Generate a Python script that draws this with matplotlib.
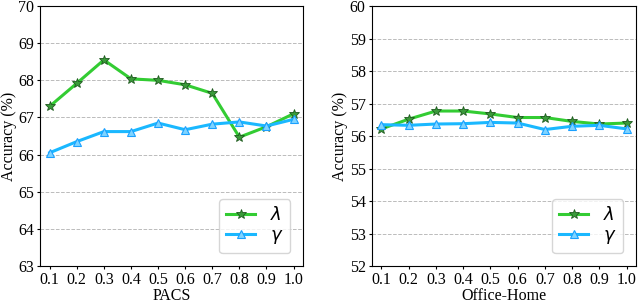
import numpy as np
import matplotlib
matplotlib.use("Agg")
import matplotlib.pyplot as plt

plt.rcParams['font.family'] = ['Liberation Serif', 'DejaVu Serif']
plt.rcParams['mathtext.fontset'] = 'dejavusans'

# Hyper-parameter values
params = [0.1, 0.2, 0.3, 0.4, 0.5, 0.6, 0.7, 0.8, 0.9, 1.0]

# PACS accuracy (%)
pacs_lambda = [67.30, 67.92, 68.55, 68.04, 68.00, 67.88, 67.65, 66.47, 66.75, 67.10]
pacs_gamma = [66.05, 66.35, 66.62, 66.62, 66.85, 66.67, 66.82, 66.88, 66.77, 66.95]

# Office-Home accuracy (%)
oh_lambda = [56.22, 56.52, 56.77, 56.77, 56.68, 56.57, 56.57, 56.45, 56.37, 56.40]
oh_gamma = [56.35, 56.33, 56.37, 56.38, 56.42, 56.40, 56.20, 56.30, 56.33, 56.22]

fig = plt.figure(figsize=(6.38, 3.04), dpi=100)
ax1 = fig.add_axes([0.063, 0.125, 0.412, 0.855])
ax2 = fig.add_axes([0.583, 0.125, 0.414, 0.855])

panels = [
    (ax1, pacs_lambda, pacs_gamma, (63, 70), "PACS"),
    (ax2, oh_lambda, oh_gamma, (52, 60), "Office-Home"),
]

for ax, lam, gam, ylim, name in panels:
    ax.plot(params, lam, color="#33cc33", linewidth=2.2, marker="*", markersize=7,
            markerfacecolor="#3a9a3a", markeredgecolor="#1f5a1f", markeredgewidth=0.6,
            label=r"$\lambda$")
    ax.plot(params, gam, color="#1ab8ff", linewidth=2.2, marker="^", markersize=5.5,
            markerfacecolor="#7fd4ff", markeredgecolor="#1aa0ff", markeredgewidth=0.8,
            label=r"$\gamma$")
    ax.set_ylim(*ylim)
    ax.set_yticks(np.arange(ylim[0], ylim[1] + 1, 1))
    ax.set_xlim(0.065, 1.035)
    ax.set_xticks(params)
    ax.set_xticklabels([f"{p:.1f}" for p in params])
    ax.tick_params(labelsize=11.5, direction="out", length=2.5, pad=2)
    ax.grid(axis="y", linestyle="--", color="#bbbbbb", linewidth=0.7)
    ax.set_axisbelow(True)
    ax.set_xlabel(name, fontsize=11.5, labelpad=0)
    ax.set_ylabel("Accuracy (%)", fontsize=11.5, labelpad=1)
    ax.legend(loc="lower right", fontsize=13, handlelength=1.6, borderaxespad=0.7,
              labelspacing=0.15, handletextpad=0.8, borderpad=0.4)

fig.savefig("out.png", dpi=100)
